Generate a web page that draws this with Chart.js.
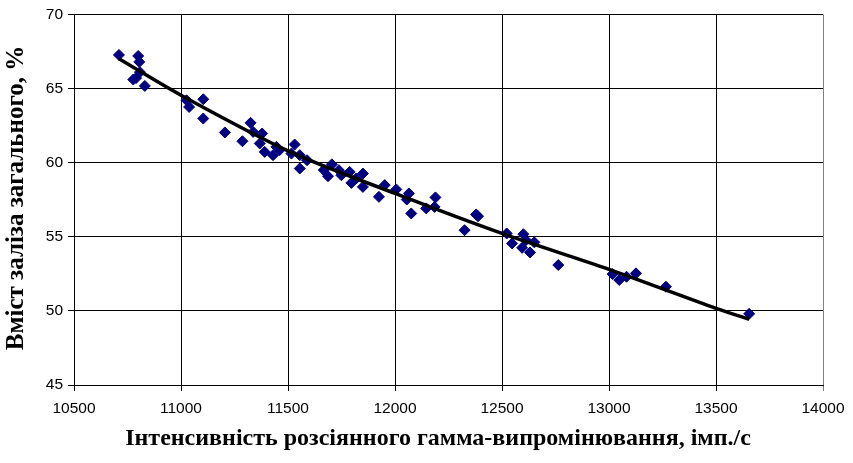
<!DOCTYPE html>
<html>
<head>
<meta charset="utf-8">
<script src="https://cdn.jsdelivr.net/npm/chart.js@4/dist/chart.umd.min.js"></script>
<style>
  html, body { margin: 0; padding: 0; background: #fff; }
  #wrap { width: 853px; height: 463px; }
</style>
</head>
<body>
<div id="wrap"><canvas id="c" width="853" height="463"></canvas></div>
<script>
// Measured samples: scattered gamma intensity (imp./s) vs total iron content (%)
const intensity = [
  10710, 10800, 10805, 10808, 10777, 10790, 10831,
  11026, 11038, 11104, 11104, 11205, 11325, 11287, 11337, 11379, 11368,
  11391, 11430, 11446, 11461, 11531, 11516, 11555, 11589, 11555,
  11667, 11705, 11687, 11738, 11749, 11788, 11796, 11819, 11850, 11850,
  11925, 11952, 12006, 12065, 12055, 12076, 12146, 12189, 12185,
  12325, 12379, 12388, 12522, 12547, 12600, 12594, 12612, 12651, 12631,
  12763, 13017, 13048, 13082, 13126, 13266, 13655
];
const ironContent = [
  67.26, 67.19, 66.79, 66.10, 65.60, 65.70, 65.17,
  64.20, 63.75, 64.27, 62.97, 62.03, 62.68, 61.44, 62.07, 61.96, 61.29,
  60.72, 60.50, 61.06, 60.84, 61.22, 60.61, 60.50, 60.16, 59.60,
  59.50, 59.88, 59.08, 59.49, 59.15, 59.37, 58.63, 58.93, 59.26, 58.36,
  57.69, 58.48, 58.19, 57.92, 57.51, 56.57, 56.91, 57.65, 57.01,
  55.44, 56.50, 56.38, 55.22, 54.55, 55.17, 54.25, 54.77, 54.62, 53.94,
  53.09, 52.48, 52.08, 52.30, 52.53, 51.63, 49.80
];

// Calibration curve
const curveIntensity = [10710, 11000, 11500, 12000, 12500, 13000, 13500, 13655];
const curveIron      = [67.00, 64.54, 60.79, 57.92, 55.22, 52.80, 50.17, 49.43];

const xTicks = [10500, 11000, 11500, 12000, 12500, 13000, 13500, 14000];
const yTicks = [45, 50, 55, 60, 65, 70];

const xTitle = 'Інтенсивність розсіянного гамма-випромінювання, імп./с';
const yTitle = 'Вміст заліза загального, %';

const samples = intensity.map((x, i) => ({ x, y: ironContent[i] }));
const curve = curveIntensity.map((x, i) => ({ x, y: curveIron[i] }));

// Axis titles drawn in serif bold
const axisTitles = {
  id: 'axisTitles',
  afterDraw(chart) {
    const ctx = chart.ctx;
    const area = chart.chartArea;
    ctx.save();
    ctx.fillStyle = '#000';
    ctx.font = 'bold 25px "Liberation Serif", "Times New Roman", serif';
    ctx.textAlign = 'center';
    ctx.textBaseline = 'middle';
    ctx.translate(17, 198);
    ctx.rotate(-Math.PI / 2);
    ctx.fillText(yTitle, 0, 0);
    ctx.restore();

    ctx.save();
    ctx.fillStyle = '#000';
    ctx.font = 'bold 24px "Liberation Serif", "Times New Roman", serif';
    ctx.textAlign = 'center';
    ctx.textBaseline = 'middle';
    ctx.fillText(xTitle, 438, 439);
    ctx.restore();
  }
};

new Chart(document.getElementById('c'), {
  type: 'scatter',
  data: {
    datasets: [
      {
        label: 'curve',
        data: curve,
        showLine: true,
        borderColor: '#000000',
        borderWidth: 3.5,
        pointRadius: 0,
        pointHoverRadius: 0,
        tension: 0.3,
        order: 0
      },
      {
        label: 'samples',
        data: samples,
        pointStyle: 'rectRot',
        pointRadius: 5.5,
        pointBorderWidth: 1,
        backgroundColor: '#000080',
        borderColor: '#000080',
        order: 1
      }
    ]
  },
  plugins: [axisTitles],
  options: {
    responsive: false,
    animation: false,
    events: [],
    layout: { padding: { top: 14, right: 30, left: 0, bottom: 0 } },
    plugins: {
      legend: { display: false },
      tooltip: { enabled: false }
    },
    scales: {
      x: {
        type: 'linear',
        min: 10500,
        max: 14000,
        afterBuildTicks(scale) { scale.ticks = xTicks.map(v => ({ value: v })); },
        afterFit(scale) { scale.height = 78; },
        ticks: {
          color: '#000',
          font: { family: '"Liberation Sans", Arial, sans-serif', size: 15.5 },
          padding: 8,
          maxRotation: 0,
          callback: v => String(v)
        },
        grid: {
          color: ctx => (ctx.tick && ctx.tick.value === 14000) ? '#808080' : '#000000',
          lineWidth: 1,
          tickLength: 6
        },
        border: { color: '#000', width: 1 }
      },
      y: {
        type: 'linear',
        min: 45,
        max: 70,
        afterBuildTicks(scale) { scale.ticks = yTicks.map(v => ({ value: v })); },
        afterFit(scale) { scale.width = 74; },
        ticks: {
          color: '#000',
          font: { family: '"Liberation Sans", Arial, sans-serif', size: 15.5 },
          padding: 5,
          callback: v => String(v)
        },
        grid: { color: '#000', lineWidth: 1, tickLength: 6 },
        border: { color: '#000', width: 1 }
      }
    }
  }
});
</script>
</body>
</html>
